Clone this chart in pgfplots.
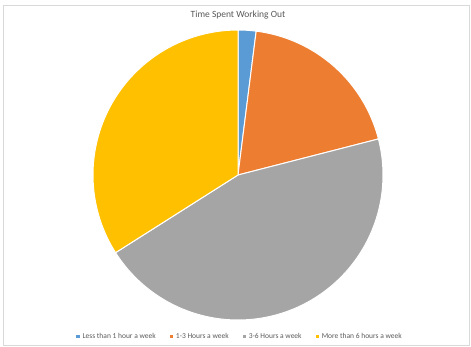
\documentclass[border=0pt]{standalone}
\usepackage{pgfplots}
\pgfplotsset{compat=1.18}
\usepackage{fontspec}
\setmainfont{Carlito}
\definecolor{sblue}{HTML}{5B9BD5}
\definecolor{sorange}{HTML}{ED7D31}
\definecolor{sgray}{HTML}{A5A5A5}
\definecolor{syellow}{HTML}{FFC000}
\definecolor{txt}{HTML}{595959}
% shares (percent)
\def\va{2}
\def\vb{19}
\def\vc{45}
\def\vd{34}
\pgfmathsetmacro\aA{90}
\pgfmathsetmacro\aB{\aA-3.6*\va}
\pgfmathsetmacro\aC{\aB-3.6*\vb}
\pgfmathsetmacro\aD{\aC-3.6*\vc}
\pgfmathsetmacro\aE{\aD-3.6*\vd}
\begin{document}
\begin{tikzpicture}
\path (0,0) rectangle (471pt,346pt);
\draw[black!15, line width=0.8pt] (3pt,1pt) rectangle (469pt,341pt);
\node[font=\fontsize{9.5}{11}\selectfont, text=txt] at (238pt,331pt) {Time Spent Working Out};
\begin{axis}[
  at={(238pt,171pt)}, anchor=center,
  width=290pt, height=290pt, scale only axis,
  xmin=-1, xmax=1, ymin=-1, ymax=1,
  hide axis, clip=false,
  legend columns=4,
  legend style={at={(axis description cs:0.507,-0.058)}, anchor=center, draw=none, fill=none,
    font=\fontsize{7.5}{9}\selectfont, text=txt,
    /tikz/every even column/.append style={column sep=12pt},
    /tikz/every odd column/.append style={column sep=1pt}},
  legend image code/.code={\fill[#1,draw=none] (0pt,-1.6pt) rectangle (3.2pt,1.6pt);},
]
\addplot[fill=sblue, draw=white, line width=1pt, data cs=polar, domain=\aB:\aA, samples=10] ({x},{1}) -- (0,0) -- cycle;
\addlegendentry{Less than 1 hour a week}
\addplot[fill=sorange, draw=white, line width=1pt, data cs=polar, domain=\aC:\aB, samples=40] ({x},{1}) -- (0,0) -- cycle;
\addlegendentry{1-3 Hours a week}
\addplot[fill=sgray, draw=white, line width=1pt, data cs=polar, domain=\aD:\aC, samples=80] ({x},{1}) -- (0,0) -- cycle;
\addlegendentry{3-6 Hours a week}
\addplot[fill=syellow, draw=white, line width=1pt, data cs=polar, domain=\aE:\aD, samples=70] ({x},{1}) -- (0,0) -- cycle;
\addlegendentry{More than 6 hours a week}
\end{axis}
\end{tikzpicture}
\end{document}
